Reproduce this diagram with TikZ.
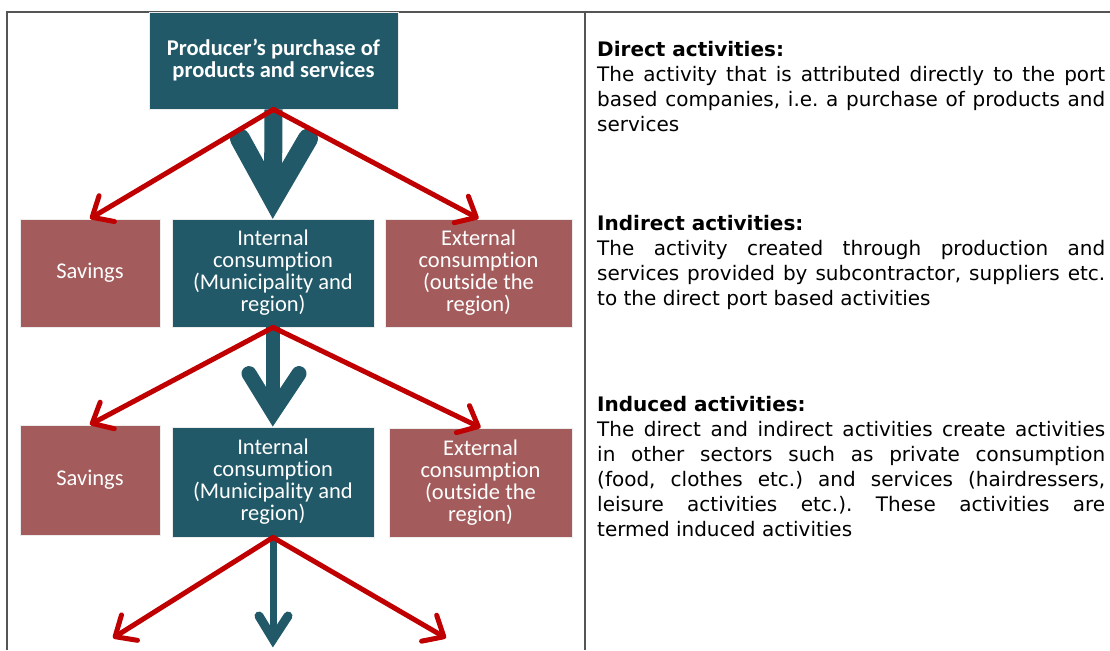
\documentclass[tikz,border=0pt]{standalone}
\usepackage{fontspec}
\setmainfont{DejaVu Sans}
\newfontfamily\boxfont[Ligatures=NoCommon]{Carlito}
\usetikzlibrary{arrows.meta,calc}
\definecolor{tealbox}{HTML}{215968}
\definecolor{redbox}{HTML}{A35B5B}
\definecolor{redarr}{HTML}{C00000}
\definecolor{framegray}{HTML}{555555}
\frenchspacing
\begin{document}
\begin{tikzpicture}[x=1pt,y=-1pt,
  box/.style={rectangle, inner sep=0pt, align=center, text=white,
    font=\boxfont\fontsize{22.5}{22}\selectfont, draw=white!85!gray, line width=0.8pt},
  tealnode/.style={box, fill=tealbox},
  rednode/.style={box, fill=redbox},
  redarrow/.style={draw=redarr, line width=5pt, line cap=round,
    -{Straight Barb[length=17pt,width=30pt,round]}},
  tealline/.style={draw=tealbox},
  tealhead/.style={draw=tealbox, line join=miter, line cap=round},
  frameline/.style={draw=framegray, line width=1.3pt},
  para/.style={anchor=north west, text width=508pt, align=justify, inner sep=0pt,
    font=\fontsize{20}{25}\selectfont}
]
\useasboundingbox (0,0) rectangle (1110,650);
\fill[white] (0,0) rectangle (1110,650);

% frame
\coordinate (ftl) at (7,12);
\coordinate (ftr) at (1110,12);
\coordinate (fbl) at (7,650);
\coordinate (dtop) at (585,12);
\coordinate (dbot) at (585,650);
\draw[frameline] (fbl) -- (ftl) -- (ftr);
\draw[frameline] (dtop) -- (dbot);

% boxes
\node[tealnode, minimum width=249pt, minimum height=97pt,
  font=\boxfont\bfseries\fontsize{22.5}{22}\selectfont] (top) at (273.5,60.5)
  {Producer’s purchase of\\products and services};
\node[rednode, minimum width=140pt, minimum height=108pt] (sav1) at (90,273) {Savings};
\node[tealnode, minimum width=202pt, minimum height=108pt] (int1) at (273,273)
  {Internal\\consumption\\(Municipality and\\region)};
\node[rednode, minimum width=187pt, minimum height=108pt] (ext1) at (478.5,273)
  {External\\consumption\\(outside the\\region)};
\node[rednode, minimum width=140pt, minimum height=110pt] (sav2) at (90,480) {Savings};
\node[tealnode, minimum width=202pt, minimum height=110pt] (int2) at (273,482)
  {Internal\\consumption\\(Municipality and\\region)};
\node[rednode, minimum width=183pt, minimum height=109pt] (ext2) at (480.5,482.5)
  {External\\consumption\\(outside the\\region)};

% free ends of bottom arrows
\coordinate (bl) at (113,638);
\coordinate (br) at (446,638);
\coordinate (btip) at (273,647);

% teal arrows
\draw[tealline, line width=18pt] (top.south) -- ($(int1.north)+(0,-24)$);
\draw[tealhead, line width=20pt] ($(int1.north)+(-33,-80)$) -- ($(int1.north)+(0,-20)$) -- ($(int1.north)+(35,-80)$);
\draw[tealline, line width=14pt] (int1.south) -- ($(int2.north)+(0,-17)$);
\draw[tealhead, line width=15pt] ($(int2.north)+(-24,-53)$) -- ($(int2.north)+(0,-14)$) -- ($(int2.north)+(26,-53)$);
\draw[tealline, line width=7pt] (int2.south) -- ($(btip)+(0,-11)$);
\draw[tealhead, line width=9pt] ($(btip)+(-14,-31)$) -- ($(btip)+(0,-8)$) -- ($(btip)+(15,-31)$);

% red arrows
\draw[redarrow] (top.south) -- (sav1.north);
\draw[redarrow] (top.south) -- (ext1.north);
\draw[redarrow] (int1.south) -- (sav2.north);
\draw[redarrow] (int1.south) -- (ext2.north);
\draw[redarrow] (int2.south) -- (bl);
\draw[redarrow] (int2.south) -- (br);

% right-hand text
\node[para] (direct) at (597,41) {\textbf{Direct activities:}\\
The activity that is attributed directly to the port\linebreak
based companies, i.e. a purchase of products and\linebreak
services};
\node[para] (indirect) at (597,215) {\textbf{Indirect activities:}\\
The activity created through production and\linebreak
services provided by subcontractor, suppliers etc.\linebreak
to the direct port based activities};
\node[para] (induced) at (597,396) {\textbf{Induced activities:}\\
The direct and indirect activities create activities\linebreak
in other sectors such as private consumption\linebreak
(food, clothes etc.) and services (hairdressers,\linebreak
leisure activities etc.). These activities are\linebreak
termed induced activities};
\end{tikzpicture}
\end{document}
